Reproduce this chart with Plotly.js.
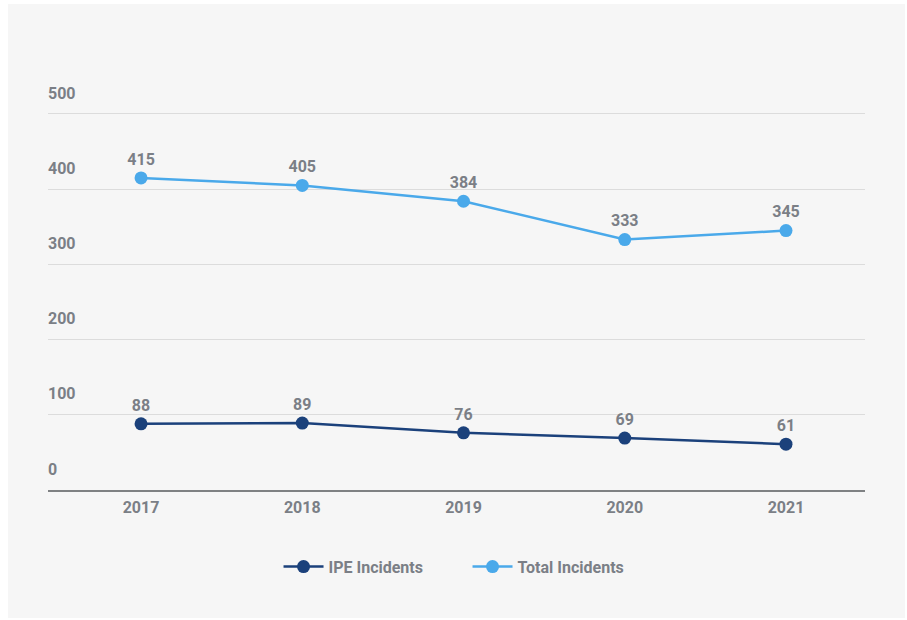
<!DOCTYPE html>
<html>
<head>
<meta charset="utf-8">
<script src="https://cdn.plot.ly/plotly-3.0.1.min.js"></script>
<style>
  html, body { margin: 0; padding: 0; background: #ffffff; }
  #bg { position: absolute; left: 8px; top: 4px; width: 897px; height: 614px; background: #f6f6f6; }
  #chart { position: absolute; left: 0; top: 0; width: 907px; height: 620px; }
</style>
</head>
<body>
<div id="bg"></div>
<div id="chart"></div>
<script>
const years = [2017, 2018, 2019, 2020, 2021];
const yearLabels = ['2017', '2018', '2019', '2020', '2021'];
const ipeIncidents = [88, 89, 76, 69, 61];
const totalIncidents = [415, 405, 384, 333, 345];
const yTicks = [0, 100, 200, 300, 400, 500];

const textGrey = '#7b7f86';
const fontFam = 'Roboto, "DejaVu Sans", sans-serif';

const traces = [
  {
    x: years, y: ipeIncidents, name: 'IPE Incidents',
    type: 'scatter', mode: 'lines+markers+text',
    line: { color: '#1b417b', width: 2.5 },
    marker: { color: '#1b417b', size: 13 },
    text: ipeIncidents.map(String), textposition: 'top center',
    textfont: { family: fontFam, size: 16, color: textGrey, weight: 'bold' },
    cliponaxis: false, hoverinfo: 'skip'
  },
  {
    x: years, y: totalIncidents, name: 'Total Incidents',
    type: 'scatter', mode: 'lines+markers+text',
    line: { color: '#4aa9ea', width: 2.5 },
    marker: { color: '#4aa9ea', size: 13 },
    text: totalIncidents.map(String), textposition: 'top center',
    textfont: { family: fontFam, size: 16, color: textGrey, weight: 'bold' },
    cliponaxis: false, hoverinfo: 'skip'
  }
];

const layout = {
  width: 907, height: 620,
  margin: { l: 48, r: 42, t: 80, b: 130 },
  paper_bgcolor: 'rgba(0,0,0,0)',
  plot_bgcolor: 'rgba(0,0,0,0)',
  font: { family: fontFam, color: textGrey, size: 16, weight: 'bold' },
  showlegend: true,
  legend: {
    orientation: 'h', x: 0.5135, xanchor: 'center', y: -0.187, yanchor: 'middle',
    font: { family: fontFam, size: 16, color: textGrey, weight: 'bold' },
    itemwidth: 40, entrywidth: 134, tracegroupgap: 0, bgcolor: 'rgba(0,0,0,0)'
  },
  xaxis: {
    range: [2016.423, 2021.49],
    tickmode: 'array', tickvals: years, ticktext: yearLabels,
    showgrid: false, zeroline: false,
    showline: true, linecolor: '#7f8183', linewidth: 2,
    ticks: '', ticklabelstandoff: 2,
    tickfont: { family: fontFam, size: 16, color: textGrey, weight: 'bold' },
    fixedrange: true
  },
  yaxis: {
    range: [0, 545.2],
    tickmode: 'array', tickvals: yTicks,
    showgrid: true, gridcolor: '#dcdcdc', gridwidth: 1,
    zeroline: false, showline: false, ticks: '',
    ticklabelposition: 'inside', ticklabelshift: -21, ticklabelstandoff: -3,
    tickfont: { family: fontFam, size: 16, color: textGrey, weight: 'bold' },
    fixedrange: true
  }
};

Plotly.newPlot('chart', traces, layout, { displayModeBar: false, staticPlot: true });
</script>
</body>
</html>
